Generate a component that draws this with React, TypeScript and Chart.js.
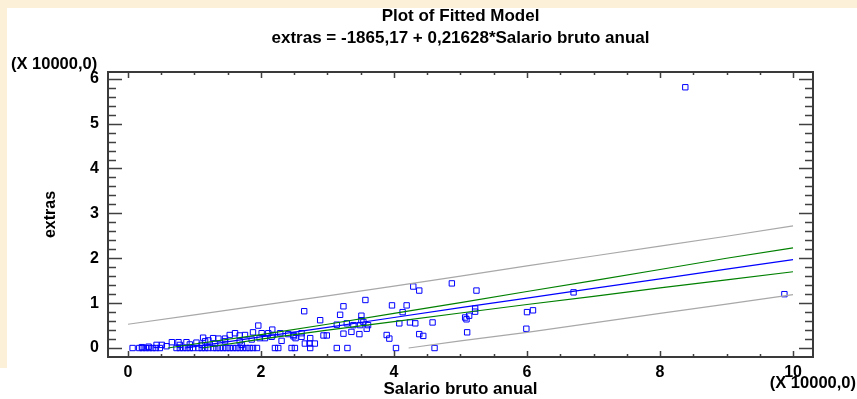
import React, { useEffect, useRef } from 'react';
import { Chart, registerables } from 'chart.js';

Chart.register(...registerables);

// Salario bruto anual (X 10000) and extras (X 10000)
const salario = [
  0.07, 0.17, 0.22, 0.27, 0.32, 0.37, 0.42, 0.48, 0.73, 0.78, 0.83, 0.88, 0.93, 0.98, 1.06, 1.11, 1.16, 1.21, 1.28, 1.33,
  1.38, 1.43, 1.48, 1.53, 1.58, 1.63, 1.68, 1.73, 1.78, 1.83, 1.88, 1.94, 2.21, 2.26, 2.46, 2.51, 2.74, 3.14, 3.30, 4.03, 4.61,
  0.21, 0.31, 0.43, 0.51, 0.58, 0.66, 0.76, 0.78, 0.88, 0.93, 1.03, 1.11, 1.13, 1.16, 1.21, 1.28, 1.31, 1.36, 1.46, 1.46,
  1.53, 1.61, 1.68, 1.68, 1.71, 1.76, 1.86, 1.88, 1.96, 1.98, 2.01, 2.06, 2.11, 2.16, 2.17, 2.18, 2.29, 2.31, 2.41, 2.49,
  2.49, 2.52, 2.61, 2.61, 2.65, 2.66, 2.73, 2.74, 2.81, 2.89, 2.94, 2.99, 3.14, 3.19, 3.24, 3.24, 3.29, 3.36, 3.39, 3.48,
  3.49, 3.51, 3.51, 3.54, 3.57, 3.59, 3.61, 3.89, 3.93, 3.97, 4.08, 4.13, 4.19, 4.24, 4.29, 4.32, 4.38, 4.38, 4.44, 4.58,
  4.87, 5.07, 5.09, 5.10, 5.13, 5.22, 5.22, 5.24, 5.99, 6.00, 6.09, 6.70, 8.38, 9.87,
];
const extras = [
  0, 0, 0, 0, 0, 0, 0, 0, 0, 0, 0, 0, 0, 0, 0, 0, 0, 0, 0, 0,
  0, 0, 0, 0, 0, 0, 0, 0, 0, 0, 0, 0, 0, 0, 0, 0, 0, 0, 0, 0, 0,
  0.02, 0.03, 0.07, 0.07, 0.04, 0.13, 0.13, 0.07, 0.13, 0.08, 0.12, 0.07, 0.23, 0.15, 0.17, 0.22, 0.10, 0.21, 0.21, 0.15,
  0.29, 0.33, 0.28, 0.15, 0.07, 0.29, 0.19, 0.35, 0.50, 0.22, 0.33, 0.22, 0.33, 0.25, 0.41, 0.29, 0.33, 0.16, 0.31, 0.29,
  0.26, 0.22, 0.33, 0.25, 0.82, 0.10, 0.10, 0.22, 0.10, 0.62, 0.28, 0.28, 0.52, 0.74, 0.93, 0.32, 0.55, 0.36, 0.51, 0.31,
  0.51, 0.72, 0.62, 0.58, 1.07, 0.43, 0.51, 0.29, 0.21, 0.95, 0.55, 0.80, 0.95, 0.57, 1.37, 0.55, 1.28, 0.31, 0.27, 0.57,
  1.44, 0.68, 0.64, 0.35, 0.72, 0.88, 0.81, 1.28, 0.43, 0.80, 0.84, 1.24, 5.81, 1.20,
];

// Fitted line
const fitX = [0.86, 1, 2, 3, 4, 5, 6, 7, 8, 9, 10];
const fitY = [0, 0.03, 0.25, 0.46, 0.68, 0.9, 1.11, 1.33, 1.54, 1.76, 1.97];
// Confidence limits
const confUpX = [0.6, 1, 2, 3, 4, 5, 6, 7, 8, 9, 10];
const confUpY = [0, 0.09, 0.3, 0.53, 0.77, 1.01, 1.26, 1.5, 1.75, 2.0, 2.23];
const confLoX = [1.12, 2, 3, 4, 5, 6, 7, 8, 9, 10];
const confLoY = [0, 0.2, 0.4, 0.59, 0.78, 0.97, 1.15, 1.34, 1.52, 1.7];
// Prediction limits
const predUpX = [0, 1, 2, 3, 4, 5, 6, 7, 8, 9, 10];
const predUpY = [0.53, 0.74, 0.95, 1.16, 1.38, 1.6, 1.83, 2.05, 2.27, 2.49, 2.72];
const predLoX = [4.22, 5, 6, 7, 8, 9, 10];
const predLoY = [0, 0.16, 0.35, 0.56, 0.77, 0.98, 1.19];

const xTickValues = [0, 2, 4, 6, 8, 10];
const xTickLabels = ['0', '2', '4', '6', '8', '10'];
const yTickValues = [0, 1, 2, 3, 4, 5, 6];
const yTickLabels = ['0', '1', '2', '3', '4', '5', '6'];

const titleText = 'Plot of Fitted Model';
const subtitleText = 'extras = -1865,17 + 0,21628*Salario bruto anual';
const xTitle = 'Salario bruto anual';
const yTitle = 'extras';
const scaleNote = '(X 10000,0)';

const FONT = '"Liberation Sans", Arial, sans-serif';

const pts = (xs: number[], ys: number[]) => xs.map((x, i) => ({ x, y: ys[i] }));

export default function App() {
  const ref = useRef<HTMLCanvasElement>(null);
  useEffect(() => {
    const canvas = ref.current;
    if (!canvas) return;

    const bgPlugin = {
      id: 'bg',
      beforeDraw(chart: any) {
        const ctx = chart.ctx;
        ctx.save();
        ctx.fillStyle = '#FCF0D9';
        ctx.fillRect(0, 0, chart.width, chart.height);
        ctx.fillStyle = '#FFFFFF';
        ctx.fillRect(7, 8, chart.width - 7, chart.height - 8);
        ctx.fillRect(0, 368, 7, chart.height - 368);
        ctx.restore();
      },
    };

    const framePlugin = {
      id: 'frame',
      afterDraw(chart: any) {
        const ctx = chart.ctx;
        const { left, right, top, bottom } = chart.chartArea;
        const xs = chart.scales.x;
        const ys = chart.scales.y;
        ctx.save();
        ctx.strokeStyle = '#404040';
        ctx.lineWidth = 1.5;
        ctx.beginPath();
        for (let i = 0; i <= 20; i++) {
          const v = i * 0.5;
          const px = Math.round(xs.getPixelForValue(v)) + 0.5;
          const len = i % 4 === 0 ? 6 : 3;
          ctx.moveTo(px, bottom);
          ctx.lineTo(px, bottom - len);
          ctx.moveTo(px, top);
          ctx.lineTo(px, top + len);
        }
        for (let i = 0; i <= 30; i++) {
          const v = i * 0.2;
          const py = Math.round(ys.getPixelForValue(v)) + 0.5;
          const len = i % 5 === 0 ? 14 : 8;
          ctx.moveTo(left, py);
          ctx.lineTo(left + len, py);
          ctx.moveTo(right, py);
          ctx.lineTo(right - len, py);
        }
        ctx.stroke();
        ctx.lineWidth = 2;
        ctx.strokeStyle = '#3a3a3a';
        ctx.strokeRect(left, top, right - left, bottom - top);

        ctx.fillStyle = '#000';
        ctx.textBaseline = 'middle';
        ctx.font = `bold 17px ${FONT}`;
        ctx.textAlign = 'center';
        const cx = (left + right) / 2;
        ctx.fillText(titleText, cx, 16);
        ctx.fillText(subtitleText, cx, 38);
        ctx.fillText(xTitle, cx, 389);
        ctx.font = `bold 16.5px ${FONT}`;
        ctx.textAlign = 'left';
        ctx.fillText(scaleNote, 11, 64);
        ctx.textAlign = 'right';
        ctx.fillText(scaleNote, 856, 383);
        ctx.font = `bold 16px ${FONT}`;
        ctx.save();
        ctx.translate(51, (top + bottom) / 2);
        ctx.rotate(-Math.PI / 2);
        ctx.textAlign = 'center';
        ctx.fillText(yTitle, 0, 0);
        ctx.restore();
        ctx.restore();
      },
    };

    const lineDs = (label: string, data: any[], color: string) => ({
      label,
      data,
      showLine: true,
      borderColor: color,
      borderWidth: 1.2,
      pointRadius: 0,
      fill: false,
      order: 0,
    });

    const chart = new Chart(canvas, {
      type: 'scatter',
      data: {
        datasets: [
          lineDs('Pred upper', pts(predUpX, predUpY), '#A8A8A8'),
          lineDs('Pred lower', pts(predLoX, predLoY), '#A8A8A8'),
          lineDs('Conf upper', pts(confUpX, confUpY), '#008000'),
          lineDs('Conf lower', pts(confLoX, confLoY), '#008000'),
          lineDs('Fitted', pts(fitX, fitY), '#0000FF'),
          {
            label: 'extras',
            data: pts(salario, extras),
            pointStyle: 'rect',
            pointRadius: 3.8,
            borderColor: '#0000FF',
            backgroundColor: 'rgba(0,0,0,0)',
            borderWidth: 1,
            order: 1,
          },
        ],
      },
      options: {
        animation: false,
        responsive: false,
        devicePixelRatio: 1,
        layout: { padding: { top: 72, right: 44, left: 0, bottom: 0 } },
        plugins: { legend: { display: false }, title: { display: false }, tooltip: { enabled: false } },
        scales: {
          x: {
            type: 'linear',
            min: -0.3,
            max: 10.3,
            grid: { display: false, drawTicks: false },
            border: { display: false },
            afterBuildTicks: (s: any) => {
              s.ticks = xTickValues.map((v) => ({ value: v }));
            },
            afterFit: (s: any) => {
              s.height = 42;
            },
            ticks: {
              padding: 6,
              autoSkip: false,
              maxRotation: 0,
              color: '#000',
              font: { family: FONT, size: 16, weight: 'bold' },
              callback: (_v: any, i: number) => xTickLabels[i],
            },
          },
          y: {
            type: 'linear',
            min: -0.2,
            max: 6.15,
            grid: { display: false, drawTicks: false },
            border: { display: false },
            afterBuildTicks: (s: any) => {
              s.ticks = yTickValues.map((v) => ({ value: v }));
            },
            afterFit: (s: any) => {
              s.width = 108;
            },
            ticks: {
              padding: 9,
              color: '#000',
              font: { family: FONT, size: 16, weight: 'bold' },
              callback: (_v: any, i: number) => yTickLabels[i],
            },
          },
        },
      },
      plugins: [bgPlugin, framePlugin],
    } as any);
    return () => chart.destroy();
  }, []);

  return (
    <div style={{ position: 'absolute', left: 0, top: 0, width: 857, height: 399 }}>
      <canvas ref={ref} width={857} height={399} style={{ width: 857, height: 399, display: 'block' }} />
    </div>
  );
}
